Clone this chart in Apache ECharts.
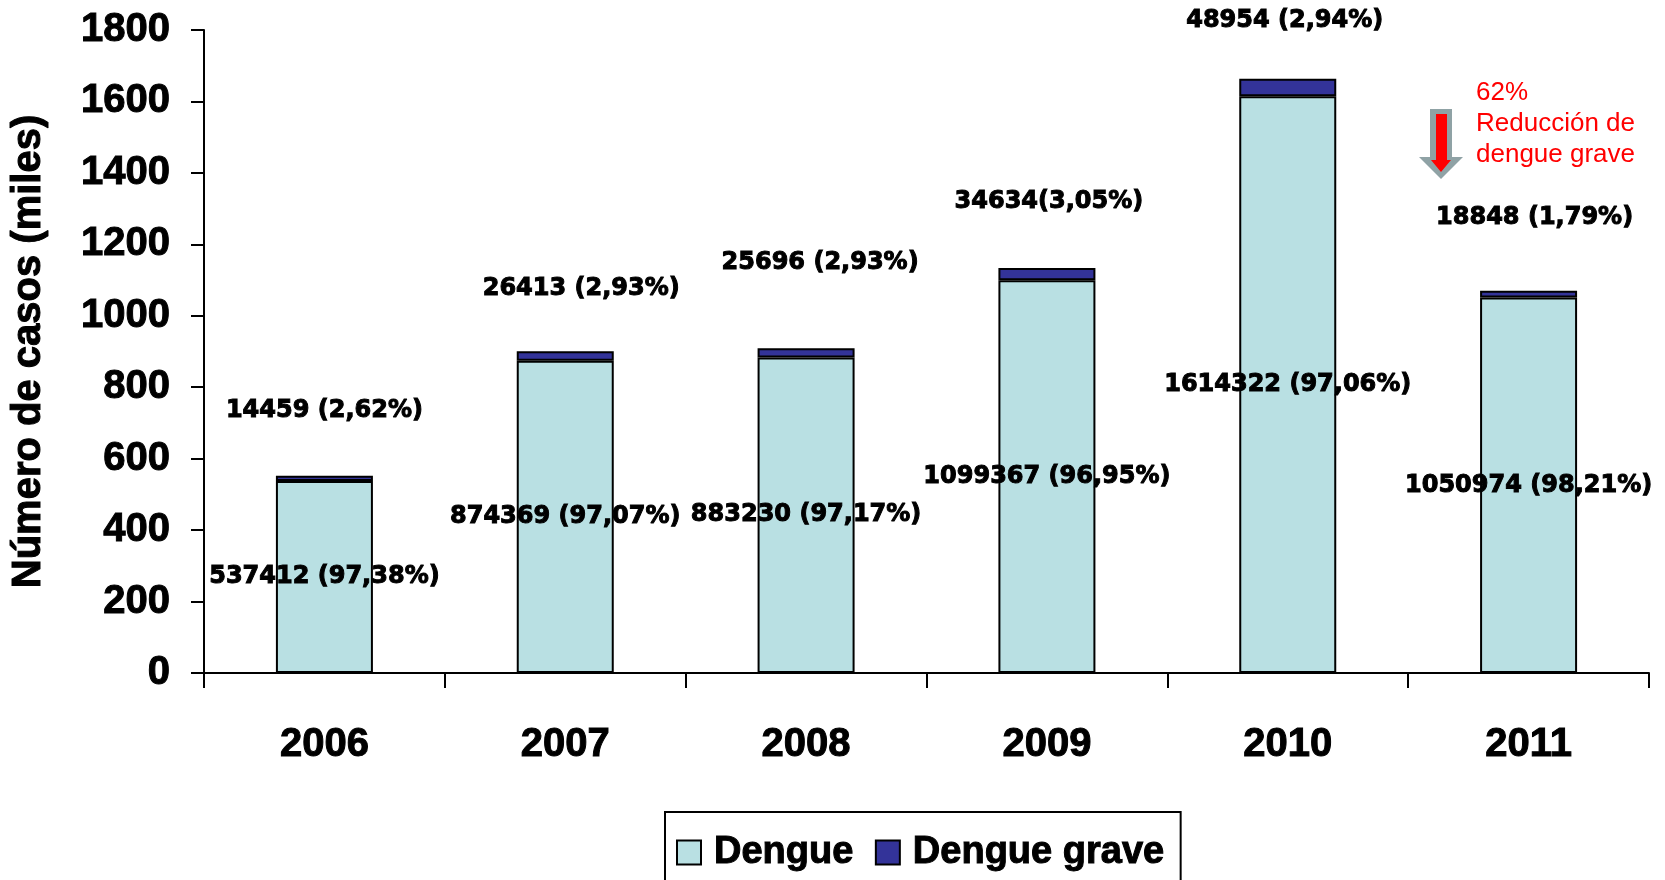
<!DOCTYPE html>
<html>
<head>
<meta charset="utf-8">
<title>Dengue 2006-2011</title>
<script src="https://cdn.jsdelivr.net/npm/echarts/dist/echarts.min.js"></script>
<style>
  html, body { margin: 0; padding: 0; background: #fff; }
  #chart { width: 1665px; height: 880px; }
</style>
</head>
<body>
<div id="chart"></div>
<script>
// datos (casos)
const years = ['2006', '2007', '2008', '2009', '2010', '2011']
const dengueCases = [537412, 874369, 883230, 1099367, 1614322, 1050974]
const graveCases = [14459, 26413, 25696, 34634, 48954, 18848]
const dengueLabels = ['537412 (97,38%)', '874369 (97,07%)', '883230 (97,17%)', '1099367 (96,95%)', '1614322 (97,06%)', '1050974 (98,21%)']
const graveLabels = ['14459 (2,62%)', '26413 (2,93%)', '25696 (2,93%)', '34634(3,05%)', '48954 (2,94%)', '18848 (1,79%)']
const yTicks = { min: 0, max: 1800, interval: 200 }

const chart = echarts.init(document.getElementById('chart'))

const labelFont = {
  color: '#000',
  fontFamily: 'DejaVu Sans',
  fontWeight: 'bold',
  fontSize: 24,
  textBorderColor: '#000',
  textBorderWidth: 1
}
const axisFont = {
  color: '#000',
  fontFamily: 'Liberation Sans',
  fontWeight: 'bold',
  fontSize: 40,
  textBorderColor: '#000',
  textBorderWidth: 1
}
// desplazamiento de las etiquetas de dengue grave (estilo, no datos)
const graveLift = [53, 50, 74, 54, 46, 61]
const graveShift = [0, 16, 14, 2, -3, 6]

const option = {
  backgroundColor: '#fff',
  animation: false,
  grid: { left: 204, right: 16, top: 30, bottom: 207, containLabel: false, outerBoundsMode: 'none' },
  legend: {
    left: 665,
    top: 812,
    orient: 'horizontal',
    selectedMode: false,
    borderColor: '#000',
    borderWidth: 2,
    padding: [21, 16, 40, 11],
    itemWidth: 24,
    itemHeight: 24,
    itemGap: 21,
    icon: 'rect',
    textStyle: {
      ...axisFont,
      fontSize: 38,
      padding: [0, 0, 0, 8]
    },
    data: ['Dengue', 'Dengue grave']
  },
  xAxis: {
    type: 'category',
    data: years,
    axisLine: { lineStyle: { color: '#000', width: 2 } },
    axisTick: { show: true, length: 15, lineStyle: { color: '#000', width: 2 } },
    axisLabel: {
      margin: 52,
      ...axisFont
    }
  },
  yAxis: {
    type: 'value',
    min: yTicks.min,
    max: yTicks.max,
    interval: yTicks.interval,
    name: 'Número de casos (miles)',
    nameLocation: 'middle',
    nameRotate: 90,
    nameGap: 155,
    nameTextStyle: { ...axisFont },
    axisLine: { show: true, lineStyle: { color: '#000', width: 2 } },
    axisTick: { show: true, length: 13, lineStyle: { color: '#000', width: 2 } },
    splitLine: { show: false },
    axisLabel: {
      margin: 34,
      ...axisFont,
      formatter: v => String(v)
    }
  },
  series: [
    {
      name: 'Dengue',
      type: 'bar',
      stack: 'total',
      barWidth: 97,
      itemStyle: { color: '#B9E0E3', borderColor: '#000', borderWidth: 2 },
      label: {
        show: true,
        position: 'inside',
        formatter: p => dengueLabels[p.dataIndex],
        ...labelFont
      },
      data: dengueCases.map(v => v / 1000)
    },
    {
      name: 'Dengue grave',
      type: 'bar',
      stack: 'total',
      barWidth: 97,
      itemStyle: { color: '#333399', borderColor: '#000', borderWidth: 2 },
      data: graveCases.map((v, i) => ({
        value: v / 1000,
        label: {
          show: true,
          position: 'top',
          distance: graveLift[i],
          offset: [graveShift[i], 0],
          formatter: graveLabels[i],
          ...labelFont
        }
      }))
    }
  ],
  // anotación: flecha y texto rojo
  graphic: [
    {
      type: 'polygon',
      shape: { points: [[1430, 109], [1452, 109], [1452, 157], [1463, 157], [1441, 179], [1419, 157], [1430, 157]] },
      style: { fill: '#8FA2A5' }
    },
    {
      type: 'polygon',
      shape: { points: [[1436, 114], [1447, 114], [1447, 160], [1451, 160], [1441, 172], [1431, 160], [1436, 160]] },
      style: { fill: '#FF0000' }
    },
    {
      type: 'text',
      left: 1476,
      top: 77,
      style: {
        text: '62%\nReducción de\ndengue grave',
        fill: '#FF0000',
        font: '26px "Liberation Sans"',
        lineHeight: 31
      }
    }
  ]
}

chart.setOption(option)
</script>
</body>
</html>
